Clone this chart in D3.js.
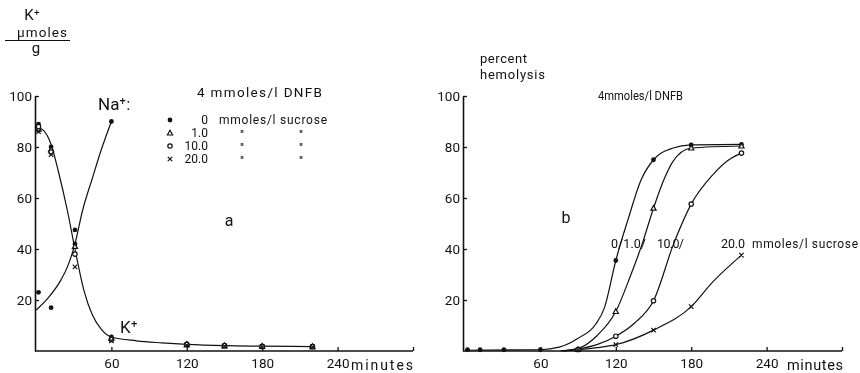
<!DOCTYPE html>
<html><head><meta charset="utf-8">
<script src="https://cdn.jsdelivr.net/npm/d3@7"></script>
<style>
body{margin:0;background:#fff;}
svg text{font-family:Roboto,"DejaVu Sans",sans-serif;fill:#111;}
svg{will-change:transform;}
</style></head><body>
<svg id="c" width="860" height="373"></svg>
<script>
// ---------- data ----------
const xTicks = [60, 120, 180, 240];
const yTicks = [20, 40, 60, 80, 100];
const seriesNames = ["0", "1.0", "10.0", "20.0"];
const markerTypes = ["dot", "triangle", "circle", "cross"];

// panel a: K+ and Na+ (µmoles/g)
const kTimes = [2, 12, 31, 60, 120, 150, 180, 220];
const kS0  = [89, 80, 42, 5.5, 2.8, 2.2, 1.9, 1.8];
const kS1  = [87, 79, 41, 5.0, 2.5, 2.0, 1.8, 1.7];
const kS10 = [88, 78, 38, 4.5, 2.6, 2.1, 1.8, 1.7];
const kS20 = [86, 77, 33, 4.0, 2.3, 1.9, 1.7, 1.6];
const naTimes = [2, 12, 31, 60];
const naS0 = [23, 17, 47.5, 90];
// fitted curves drawn in panel a
const kFitT = [0, 6, 12, 18, 25, 31, 38, 45, 52, 60, 80, 100, 120, 150, 180, 220];
const kFitV = [88, 86.5, 81, 70, 55, 40, 24, 14, 8.5, 5.5, 4, 3.2, 2.6, 2.1, 1.9, 1.7];
const naFitT = [0, 10, 20, 25, 31, 37, 45, 52, 60];
const naFitV = [16, 21, 28, 33, 42, 55, 68, 79, 90];

// panel b: percent hemolysis
const hTimes = [2, 12, 31, 60, 90, 120, 150, 180, 220];
const hS0  = [0.5, 0.5, 0.5, 0.5, null, 35.5, 75, 80.8, 81];
const hS1  = [null, null, null, null, 0.6, 15.5, 56, 79.6, 80.4];
const hS10 = [null, null, null, null, 0.6, 5.8, 19.7, 57.6, 77.6];
const hS20 = [null, null, null, null, 0.5, 2.5, 8.2, 17.4, 37.6];
// fitted curves drawn in panel b
const f0T  = [0, 60, 75, 90, 104, 111, 120, 130, 140, 150, 165, 180, 220];
const f0V  = [0.3, 0.5, 1.5, 5, 10.5, 17, 35.5, 52, 67, 75, 79.5, 80.8, 81];
const f1T  = [76, 90, 105, 120, 131, 141, 150, 159, 165, 180, 220];
const f1V  = [0, 1, 6, 15.5, 28.6, 42, 56, 68, 74, 79.6, 80.4];
const f10T = [78, 90, 105, 120, 135, 150, 166, 180, 197, 210, 220];
const f10V = [0, 0.8, 2.5, 5.8, 11, 19.7, 42, 57.6, 69, 75, 77.6];
const f20T = [78, 90, 105, 120, 150, 180, 197, 220];
const f20V = [0, 0.5, 1.3, 2.5, 8.2, 17.4, 27, 37.6];

// ---------- drawing ----------
const svg = d3.select("#c");
const yS = d3.scaleLinear().domain([0, 100]).range([351, 96]);
const xA = d3.scaleLinear().domain([0, 300]).range([36, 413]);
const xB = d3.scaleLinear().domain([0, 300]).range([465, 842]);

function axes(x, x0) {
  const gY = svg.append("g").attr("transform", `translate(${x0},0)`)
    .call(d3.axisLeft(yS).tickValues(yTicks).tickSize(-4).tickSizeOuter(0).tickPadding(3));
  gY.select(".domain").attr("stroke", "#111").attr("stroke-width", 1.6);
  gY.selectAll(".tick line").attr("stroke", "#111").attr("stroke-width", 1.3);
  gY.selectAll(".tick text").attr("font-size", 13.5).attr("fill", "#111");
  const gX = svg.append("g").attr("transform", `translate(0,${yS(0)})`)
    .call(d3.axisBottom(x).tickValues(xTicks.concat([300])).tickSize(-4).tickSizeOuter(0).tickPadding(7)
      .tickFormat(d => d === 300 ? "" : d));
  gX.select(".domain").attr("stroke", "#111").attr("stroke-width", 1.6)
    .attr("d", `M${x0},0H${x(300)}`);
  gX.selectAll(".tick line").attr("stroke", "#111").attr("stroke-width", 1.3);
  gX.selectAll(".tick text").attr("font-size", 13.5).attr("fill", "#111");
}
axes(xA, 35);
axes(xB, 463);

const line = (x) => d3.line().x(d => x(d[0])).y(d => yS(d[1])).curve(d3.curveMonotoneX);
function fit(x, T, V) {
  svg.append("path").datum(T.map((t, i) => [t, V[i]]))
    .attr("d", line(x)).attr("fill", "none").attr("stroke", "#111").attr("stroke-width", 1.2);
}
function marker(type, cx, cy) {
  if (type === "dot") svg.append("circle").attr("cx", cx).attr("cy", cy).attr("r", 2.4).attr("fill", "#111");
  else if (type === "circle") svg.append("circle").attr("cx", cx).attr("cy", cy).attr("r", 2.2)
    .attr("fill", "#fff").attr("stroke", "#111").attr("stroke-width", 1.2);
  else if (type === "triangle") svg.append("path")
    .attr("d", `M${cx},${cy - 2.8}L${cx + 2.6},${cy + 2}L${cx - 2.6},${cy + 2}Z`)
    .attr("fill", "#fff").attr("stroke", "#111").attr("stroke-width", 1.2);
  else svg.append("path")
    .attr("d", `M${cx - 2.2},${cy - 2.2}L${cx + 2.2},${cy + 2.2}M${cx + 2.2},${cy - 2.2}L${cx - 2.2},${cy + 2.2}`)
    .attr("stroke", "#111").attr("stroke-width", 1.2);
}
function points(x, T, V, type) {
  T.forEach((t, i) => { if (V[i] != null) marker(type, x(t), yS(V[i])); });
}

// panel a
fit(xA, kFitT, kFitV);
fit(xA, naFitT, naFitV);
[kS0, kS1, kS10, kS20].forEach((s, i) => points(xA, kTimes, s, markerTypes[i]));
points(xA, naTimes, naS0, "dot");

// panel b
fit(xB, f0T, f0V); fit(xB, f1T, f1V); fit(xB, f10T, f10V); fit(xB, f20T, f20V);
[hS0, hS1, hS10, hS20].forEach((s, i) => points(xB, hTimes, s, markerTypes[i]));

// ---------- text ----------
function txt(x, y, s, size, opts = {}) {
  const t = svg.append("text").attr("x", x).attr("y", y).attr("font-size", size)
    .attr("text-anchor", opts.anchor || "start").text(s);
  if (opts.len) t.attr("textLength", opts.len).attr("lengthAdjust", opts.adj || "spacing");
  if (opts.weight) t.attr("font-weight", opts.weight);
  return t;
}
// y-axis title panel a
txt(32, 20, "K⁺", 15, {anchor: "middle"});
txt(17, 37, "μmoles", 13.5, {len: 50});
svg.append("line").attr("x1", 5).attr("x2", 70).attr("y1", 40.5).attr("y2", 40.5)
  .attr("stroke", "#111").attr("stroke-width", 1.2);
txt(36, 53, "g", 15, {anchor: "middle"});

txt(98, 110, "Na⁺:", 17);
txt(120, 333, "K⁺", 17);
txt(229, 226, "a", 16, {anchor: "middle"});
txt(197, 97, "4 mmoles/l DNFB", 13.5, {len: 125});

// legend
const legY = [120, 133, 146, 159];
seriesNames.forEach((n, i) => {
  marker(markerTypes[i], 170, legY[i]);
  txt(208, legY[i] + 4, n, 12, {anchor: "end"});
  if (i === 0) txt(219, legY[i] + 4, "mmoles/l sucrose", 12, {len: 108});
  else {
    txt(242, legY[i] + 5, "\"", 10, {anchor: "middle", weight: "bold"});
    txt(301, legY[i] + 5, "\"", 10, {anchor: "middle", weight: "bold"});
  }
});

txt(351, 370, "minutes", 14, {len: 62});

// panel b text
txt(480, 63, "percent", 13, {len: 47});
txt(480, 79, "hemolysis", 13, {len: 65});
txt(598, 100, "4mmoles/l DNFB", 13, {len: 85, adj: "spacingAndGlyphs"});
txt(566, 223, "b", 16, {anchor: "middle"});
txt(611, 248, "0/1.0/", 12.5, {len: 35});
txt(657, 248, "10.0/", 12.5, {len: 27});
txt(721, 248, "20.0", 12.5, {len: 24});
txt(752, 248, "mmoles/l sucrose", 12, {len: 106});
txt(787, 370, "minutes", 14.5, {len: 56});
</script>
</body></html>
